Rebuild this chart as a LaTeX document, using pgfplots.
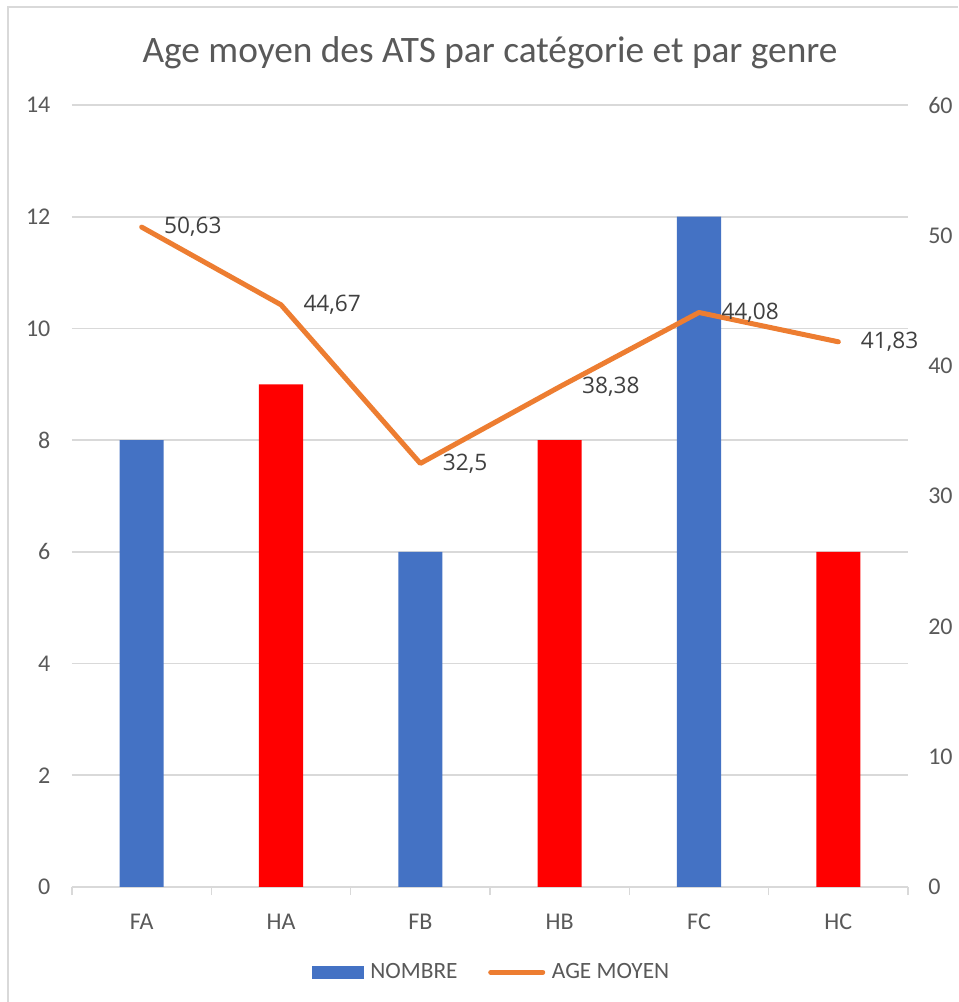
\documentclass[border=0pt]{standalone}
\usepackage{pgfplots}
\pgfplotsset{compat=1.18}
\usepackage{fontspec}
\setmainfont{Carlito}
\newfontfamily\labelfont{Open Sans}
\definecolor{cblue}{HTML}{4472C4}
\definecolor{cred}{HTML}{FF0000}
\definecolor{corange}{HTML}{ED7D31}
\definecolor{cgrid}{HTML}{D9D9D9}
\definecolor{ctext}{HTML}{595959}
\definecolor{clabel}{HTML}{404040}
\begin{document}
\begin{tikzpicture}[x=0.75pt,y=0.75pt]
\useasboundingbox (0,0) rectangle (958,1002);
\fill[white] (0,0) rectangle (958,1002);
\draw[cgrid, line width=1.5pt] (8,0) -- (8,995) -- (958,995);
\node[anchor=base, text=ctext, font=\fontsize{28}{32}\selectfont] at (490,939) {Age moyen des ATS par catégorie et par genre};
\begin{axis}[
  at={(54pt,86.25pt)}, anchor=south west,
  scale only axis, width=627pt, height=586.5pt,
  xmin=-0.5, xmax=5.5, ymin=0, ymax=14,
  xtick={0,1,2,3,4,5},
  xticklabels={FA,HA,FB,HB,FC,HC},
  minor xtick={-0.5,0.5,1.5,2.5,3.5,4.5,5.5},
  ytick={0,2,...,14},
  axis x line*=bottom, axis y line*=left,
  y axis line style={draw=none},
  x axis line style={draw=cgrid, line width=1.2pt, -},
  major tick length=0pt,
  minor tick length=6pt,
  tick align=outside,
  minor tick style={draw=cgrid, line width=1.2pt},
  ymajorgrids, grid style={draw=cgrid, line width=1.2pt},
  tick label style={text=ctext, font=\fontsize{18}{21}\selectfont},
  yticklabel style={anchor=east, inner sep=0pt, xshift=-16pt},
  xticklabel style={anchor=north, inner sep=0pt, yshift=-20pt},
  /pgf/number format/assume math mode=true,
]
\addplot[ybar, bar width=0.316, bar shift=0pt, fill=cblue, draw=none] coordinates {(0,8) (2,6) (4,12)};
\addplot[ybar, bar width=0.316, bar shift=0pt, fill=cred, draw=none] coordinates {(1,9) (3,8) (5,6)};
\end{axis}
\begin{axis}[
  at={(54pt,86.25pt)}, anchor=south west,
  scale only axis, width=627pt, height=586.5pt,
  xmin=-0.5, xmax=5.5, ymin=0, ymax=60,
  ytick={0,10,...,60},
  hide x axis,
  axis y line*=right,
  y axis line style={draw=none},
  major tick length=0pt,
  tick label style={text=ctext, font=\fontsize{18}{21}\selectfont},
  yticklabel style={anchor=west, inner sep=0pt, xshift=15pt},
  /pgf/number format/assume math mode=true,
  legend style={at={(0.505,-0.109)}, anchor=center, draw=none, fill=none,
    legend columns=2, font=\fontsize{17.5}{20}\selectfont, text=ctext,
    /tikz/every even column/.append style={column sep=18pt},
    inner sep=0pt, nodes={inner xsep=5pt, inner ysep=2pt}},
  legend cell align=left,
]
\addlegendimage{legend image code/.code={\fill[cblue] (0pt,-4.5pt) rectangle (38pt,4.5pt);}}
\addlegendentry{NOMBRE}
\addplot[corange, line width=3.75pt, line join=round, line cap=round,
  nodes near coords, point meta=explicit symbolic,
  every node near coord/.style={anchor=west, inner sep=0pt, xshift=15pt, text=clabel, font=\labelfont\fontsize{17}{20}\selectfont},
  legend image code/.code={\draw[corange, line width=3.75pt, line cap=round] (2pt,0pt) -- (41pt,0pt);}]
  coordinates {(0,50.63)[50,63] (1,44.67)[44,67] (2,32.5)[32,5] (3,38.38)[38,38] (4,44.08)[44,08] (5,41.83)[41,83]};
\addlegendentry{AGE MOYEN}
\end{axis}
\end{tikzpicture}
\end{document}
